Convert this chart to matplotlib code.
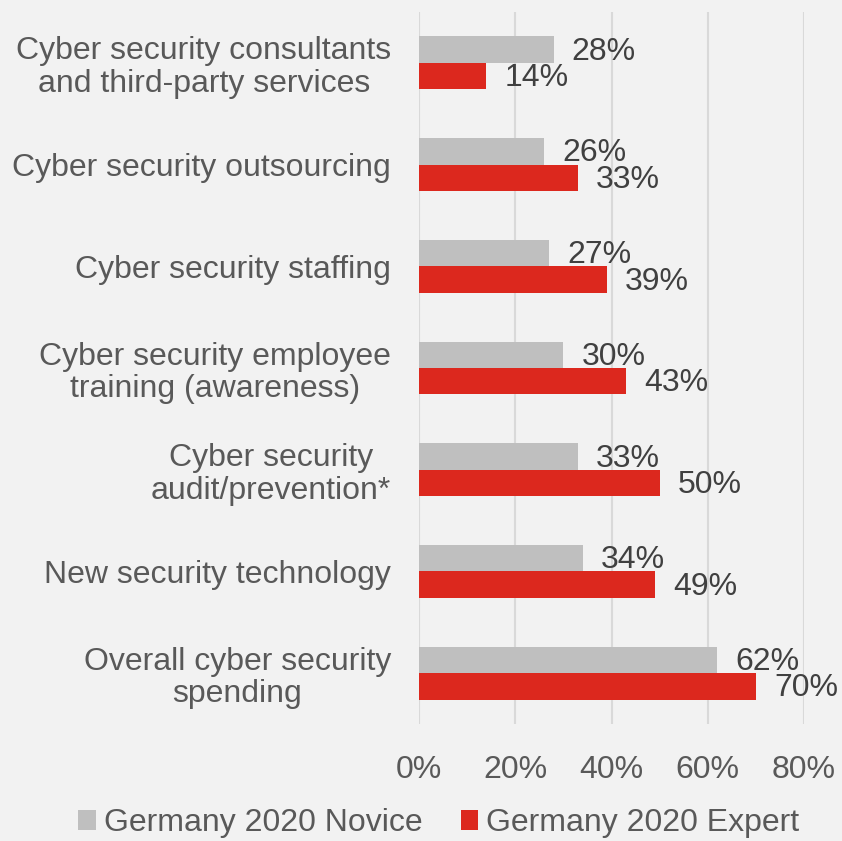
import matplotlib.pyplot as plt
import numpy as np

categories = [
    "Cyber security consultants\nand third-party services",
    "Cyber security outsourcing",
    "Cyber security staffing",
    "Cyber security employee\ntraining (awareness)",
    "Cyber security\naudit/prevention*",
    "New security technology",
    "Overall cyber security\nspending",
]
novice = [28, 26, 27, 30, 33, 34, 62]
expert = [14, 33, 39, 43, 50, 49, 70]
series_names = ["Germany 2020 Novice", "Germany 2020 Expert"]
ticks = [0, 20, 40, 60, 80]

plt.rcParams['font.family'] = ['Liberation Sans', 'DejaVu Sans']

bg = '#f2f2f2'
gray = '#bfbfbf'
red = '#dc281e'
fs = 23

fig = plt.figure(figsize=(8.42, 8.41), dpi=100, facecolor=bg)
ax = fig.add_axes([419 / 842, 1 - 724 / 841, 385 / 842, 712 / 841], facecolor=bg)

y = np.arange(len(categories))
h = 0.26
ax.barh(y - h / 2, novice, height=h, color=gray, label=series_names[0], zorder=2)
ax.barh(y + h / 2, expert, height=h, color=red, label=series_names[1], zorder=2)

# value labels just past the end of each bar
for i in range(len(categories)):
    ax.annotate("%d%%" % novice[i], (novice[i], y[i] - h / 2), xytext=(13, -1.5),
                textcoords='offset points', ha='left', va='center',
                fontsize=fs, color='#404040')
    ax.annotate("%d%%" % expert[i], (expert[i], y[i] + h / 2), xytext=(13, -1.5),
                textcoords='offset points', ha='left', va='center',
                fontsize=fs, color='#404040')

ax.set_xlim(0, 80)
ax.set_ylim(len(categories) - 0.5, -0.5)
ax.set_xticks(ticks)
ax.set_xticklabels(["%d%%" % t for t in ticks])
ax.set_yticks(y)
ax.set_yticklabels(categories, multialignment='center', linespacing=1.1)
ax.tick_params(axis='both', length=0, labelsize=fs, labelcolor='#595959')
ax.tick_params(axis='y', pad=20)
ax.tick_params(axis='x', pad=22)
ax.grid(axis='x', color='#d9d9d9', linewidth=1.5, zorder=0)
for s in ax.spines.values():
    s.set_visible(False)

fig.legend(loc='lower center', bbox_to_anchor=(0.521, -0.031), ncol=2, frameon=False,
           fontsize=fs, labelcolor='#595959', handlelength=0.55, handleheight=0.55,
           handletextpad=0.25, columnspacing=1.2)

fig.savefig('out.png', dpi=100, facecolor=bg)
